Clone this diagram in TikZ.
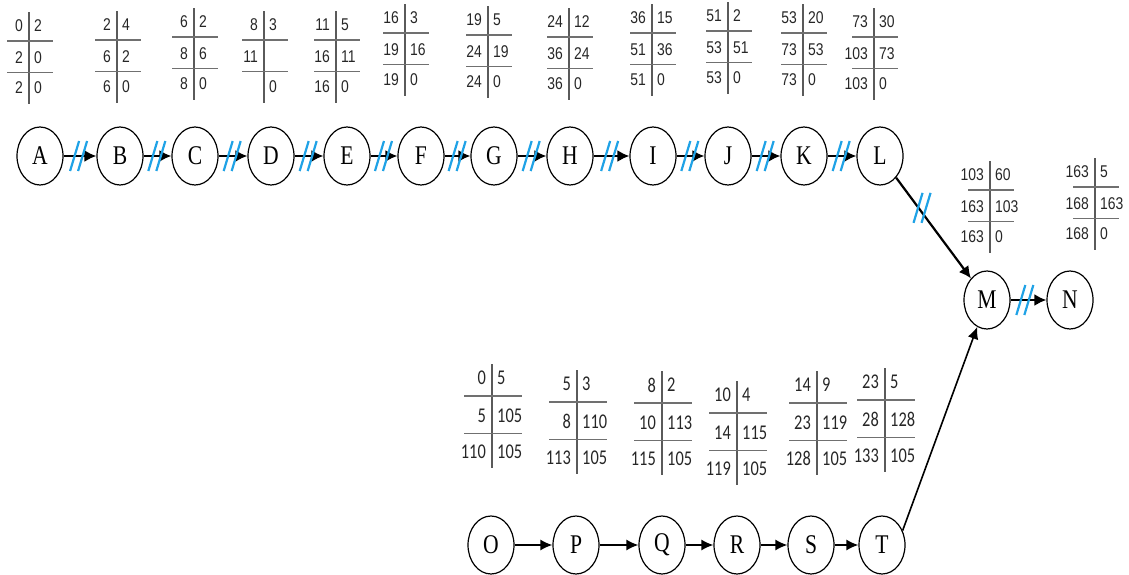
\documentclass[tikz,border=0pt]{standalone}
\usepackage{fontspec}
\setmainfont{Liberation Serif}
\newfontfamily\eventfont[FakeStretch=0.8]{Liberation Serif}
\newfontfamily\numsans[FakeStretch=0.82]{Liberation Sans}
\newfontfamily\numcal[FakeStretch=0.78]{Carlito}
\usetikzlibrary{arrows.meta,shapes.geometric,decorations.markings}
\definecolor{critblue}{HTML}{1FA2E6}
\definecolor{rulegray}{HTML}{707070}
\definecolor{numtext}{HTML}{262626}

\tikzset{
  event/.style={draw=black,line width=1.2pt,ellipse,minimum width=46pt,
                minimum height=58pt,inner sep=0pt,
                font=\eventfont\fontsize{27}{29}\selectfont},
  act/.style={-{Latex[length=12pt,width=12pt]},line width=2.2pt},
  lowact/.style={-{Latex[length=12pt,width=11pt]},line width=1.6pt},
  crit/.style={postaction={decorate},
               decoration={markings,mark=at position #1 with {
                 \pgftransformresetnontranslations
                 \draw[-,critblue,line width=2.2pt] (-5,15) -- (4,-15)
                                                    (3,15) -- (12,-15);}}},
  crit/.default=0.35,
  tabnum/.style={font=\numsans\fontsize{17}{17}\selectfont,inner sep=0pt,
                 text=numtext},
  tabrule/.style={draw=rulegray,line width=1.3pt},
  tabbar/.style={draw=rulegray!80!black,line width=1.1pt},
  tabgap/.store in=\tabgap, tabgap=15,
  tabhalf/.store in=\tabhalf, tabhalf=22,
  lowtab/.style={tabgap=18,tabhalf=28,
                 tabnum/.append style={font=\numcal\fontsize{21}{21}\selectfont}},
  pics/nettable/.style n args={6}{code={
    \draw[tabbar] (0,-14) -- (0,{4.1*\tabgap+16});
    \draw[tabrule] ({-\tabhalf},\tabgap) -- ({\tabhalf+2},\tabgap);
    \draw[tabrule] ({-\tabhalf},{3.1*\tabgap}) -- ({\tabhalf+2},{3.1*\tabgap});
    \node[tabnum,anchor=east] (-tl) at (-6,0) {#1};
    \node[tabnum,anchor=west] (-tr) at (5,0) {#2};
    \node[tabnum,anchor=east] (-ml) at (-6,{2.1*\tabgap}) {#3};
    \node[tabnum,anchor=west] (-mr) at (5,{2.1*\tabgap}) {#4};
    \node[tabnum,anchor=east] (-bl) at (-6,{4.1*\tabgap}) {#5};
    \node[tabnum,anchor=west] (-br) at (5,{4.1*\tabgap}) {#6};
  }}
}

\begin{document}
\begin{tikzpicture}[x=1pt,y=-1pt]
  \useasboundingbox (0,0) rectangle (1129,574);

  % upper chain of events
  \node[event] (A) at (40,156) {A};
  \node[event] (B) at (120,156) {B};
  \node[event] (C) at (195,156) {C};
  \node[event] (D) at (271,156) {D};
  \node[event] (E) at (347,156) {E};
  \node[event] (F) at (421,156) {F};
  \node[event] (G) at (494,156) {G};
  \node[event] (H) at (570,156) {H};
  \node[event] (I) at (653,156) {I};
  \node[event] (J) at (728,156) {J};
  \node[event] (K) at (804,156) {K};
  \node[event] (L) at (880,156) {L};
  \node[event] (M) at (987,300) {M};
  \node[event] (N) at (1070,300) {N};

  % lower chain of events
  \node[event] (O) at (491,545) {O};
  \node[event] (P) at (576,545) {P};
  \node[event] (Q) at (662,545) {Q};
  \node[event] (R) at (737,545) {R};
  \node[event] (S) at (811,545) {S};
  \node[event] (T) at (882,545) {T};

  % critical path
  \draw[act,crit] (A) -- (B);
  \draw[act,crit] (B) -- (C);
  \draw[act,crit] (C) -- (D);
  \draw[act,crit] (D) -- (E);
  \draw[act,crit] (E) -- (F);
  \draw[act,crit] (F) -- (G);
  \draw[act,crit] (G) -- (H);
  \draw[act,crit] (H) -- (I);
  \draw[act,crit] (I) -- (J);
  \draw[act,crit] (J) -- (K);
  \draw[act,crit] (K) -- (L);
  \draw[act,crit=0.3] (L) -- (M);
  \draw[act,crit=0.3] (M) -- (N);

  % other activities
  \draw[lowact] (O) -- (P);
  \draw[lowact] (P) -- (Q);
  \draw[lowact] (Q) -- (R);
  \draw[lowact] (R) -- (S);
  \draw[lowact] (S) -- (T);
  \draw[lowact] (T.35) -- (M.250);

  % time tables
  \pic (tA) at (29,26) {nettable={0}{2}{2}{0}{2}{0}};
  \pic (tB) at (117,25) {nettable={2}{4}{6}{2}{6}{0}};
  \pic (tC) at (194,22) {nettable={6}{2}{8}{6}{8}{0}};
  \pic (tD) at (264,25) {nettable={8}{3}{11}{}{}{0}};
  \pic (tE) at (336,25) {nettable={11}{5}{16}{11}{16}{0}};
  \pic (tF) at (405,18) {nettable={16}{3}{19}{16}{19}{0}};
  \pic (tG) at (488,20) {nettable={19}{5}{24}{19}{24}{0}};
  \pic (tH) at (569,22) {nettable={24}{12}{36}{24}{36}{0}};
  \pic (tI) at (652,18) {nettable={36}{15}{51}{36}{51}{0}};
  \pic (tJ) at (728,16) {nettable={51}{2}{53}{51}{53}{0}};
  \pic (tK) at (803,18) {nettable={53}{20}{73}{53}{73}{0}};
  \pic (tL) at (874,22) {nettable={73}{30}{103}{73}{103}{0}};
  \pic (tM) at (990,175) {nettable={103}{60}{163}{103}{163}{0}};
  \pic (tN) at (1095,172) {nettable={163}{5}{168}{163}{168}{0}};

  \pic[lowtab] (tO) at (492,378) {nettable={0}{5}{5}{105}{110}{105}};
  \pic[lowtab] (tP) at (577,384) {nettable={5}{3}{8}{110}{113}{105}};
  \pic[lowtab] (tQ) at (662,385) {nettable={8}{2}{10}{113}{115}{105}};
  \pic[lowtab] (tR) at (737,395) {nettable={10}{4}{14}{115}{119}{105}};
  \pic[lowtab] (tS) at (817,385) {nettable={14}{9}{23}{119}{128}{105}};
  \pic[lowtab] (tT) at (885,382) {nettable={23}{5}{28}{128}{133}{105}};
\end{tikzpicture}
\end{document}
